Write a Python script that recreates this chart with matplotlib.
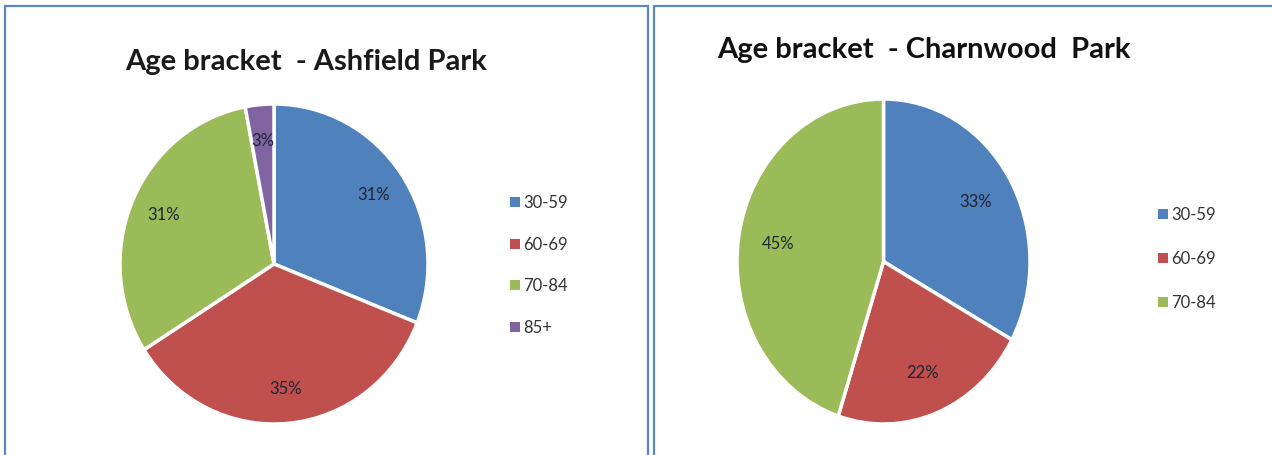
import matplotlib
matplotlib.use("Agg")
import matplotlib.pyplot as plt
from matplotlib.patches import Rectangle

# Data
categories_a = ["30-59", "60-69", "70-84", "85+"]
values_a = [31, 35, 31, 3]
categories_b = ["30-59", "60-69", "70-84"]
values_b = [33, 22, 45]
title_a = "Age bracket  - Ashfield Park"
title_b = "Age bracket  - Charnwood  Park"
colors = ["#4f81bd", "#c0504d", "#9bbb59", "#8064a2"]

W, H = 1272, 456
fig = plt.figure(figsize=(W / 100, H / 100), dpi=100)
fig.patch.set_facecolor("white")
FONT = ["Lato", "DejaVu Sans"]


def px_axes(x0, y0, x1, y1):
    return fig.add_axes([x0 / W, 1 - y1 / H, (x1 - x0) / W, (y1 - y0) / H])


# panel borders
for (x0, y0, x1, y1) in [(5, 7, 648, 470), (654, 7, 1290, 470)]:
    fig.patches.append(Rectangle((x0 / W, 1 - y1 / H), (x1 - x0) / W, (y1 - y0) / H,
                                 transform=fig.transFigure, fill=False,
                                 edgecolor="#5b87c5", linewidth=1.6))


def draw_pie(box, values, labels, pctd, leg_x, leg_y0, leg_dy):
    ax = px_axes(*box)
    wedges, texts, autotexts = ax.pie(
        values, colors=colors[:len(values)], startangle=90, counterclock=False,
        autopct=lambda p: f"{p:.0f}%", pctdistance=pctd,
        wedgeprops=dict(edgecolor="white", linewidth=2.5),
        textprops=dict(fontsize=12, color="#1e2533", family=FONT))
    ax.set_aspect("auto")
    ax.set_xlim(-1.0, 1.0)
    ax.set_ylim(-1.0, 1.0)
    ax.axis("off")
    for i, lab in enumerate(labels):
        y = leg_y0 + i * leg_dy
        fig.patches.append(Rectangle(((leg_x - 5) / W, 1 - (y + 5) / H), 10 / W, 10 / H,
                                     transform=fig.transFigure, facecolor=colors[i],
                                     edgecolor="none"))
        fig.text((leg_x + 8) / W, 1 - y / H, lab, fontsize=12, color="#333333",
                 family=FONT, va="center", ha="left")


draw_pie((120, 105, 428, 425), values_a, categories_a, 0.78, 515, 203, 41.7)
draw_pie((737, 100, 1030, 425), values_b, categories_b, 0.73, 1163, 215, 44)

fig.text(306 / W, 1 - 62 / H, title_a, fontsize=21, fontweight="bold",
         color="#1a1a1a", family=FONT, ha="center", va="center")
fig.text(924 / W, 1 - 50 / H, title_b, fontsize=21, fontweight="bold",
         color="#111111", family=FONT, ha="center", va="center")

fig.savefig("out.png", dpi=100, facecolor="white")
